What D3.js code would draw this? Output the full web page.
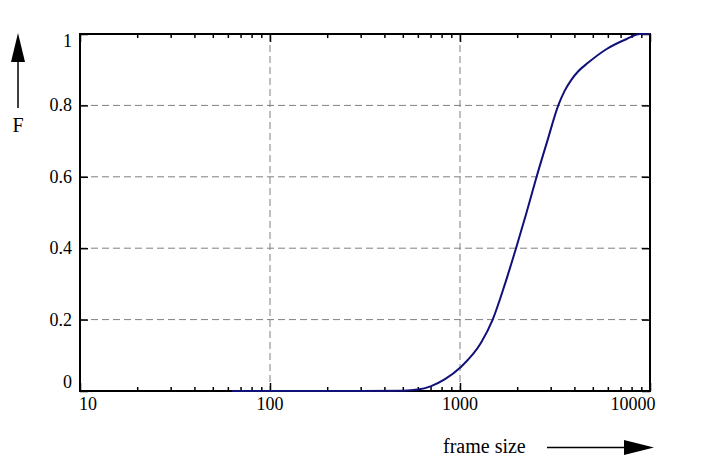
<!DOCTYPE html>
<html lang="en">
<head>
    <meta charset="UTF-8">
    <title>Frame size distribution</title>
    <script src="https://cdnjs.cloudflare.com/ajax/libs/d3/7.8.5/d3.min.js"></script>
    <style>
        body { margin: 0; background: #fff; }
        text { font-family: "Liberation Serif", "DejaVu Serif", serif; font-size: 18px; fill: #000; }
        .caption { font-size: 20px; }
        .grid line { stroke: #808080; stroke-width: 1; stroke-dasharray: 7,4; }
        .tick line { stroke: #000; stroke-width: 1.5; }
    </style>
</head>
<body>
    <div id="chart"></div>

    <script>
        // Cumulative distribution: frame size -> F
        const frameSizes = [63, 300, 500, 600, 700, 834, 1000, 1290, 1486, 1725, 1972, 2240, 2530, 2880, 3290, 3548, 3870, 4180, 4735, 5918, 7540, 8855, 10000];
        const cdfValues  = [0, 0, 0.001, 0.004, 0.013, 0.033, 0.065, 0.135, 0.2, 0.3, 0.4, 0.5, 0.6, 0.7, 0.8, 0.84, 0.873, 0.895, 0.92, 0.958, 0.986, 1.0, 1.0];

        const xMajor = [10, 100, 1000, 10000];
        const yMajor = [0, 0.2, 0.4, 0.6, 0.8, 1];
        const xGrid = [100, 1000];
        const yGrid = [0.2, 0.4, 0.6, 0.8];

        const W = 703, H = 467;
        const plot = {left: 80, right: 650, top: 34, bottom: 391};

        const svg = d3.select("#chart").append("svg")
            .attr("width", W)
            .attr("height", H);

        const x = d3.scaleLog().domain([10, 10000]).range([plot.left, plot.right]);
        const y = d3.scaleLinear().domain([0, 1]).range([plot.bottom, plot.top]);

        // minor ticks 2..9 in each decade
        const xMinor = [];
        [10, 100, 1000].forEach(d => {
            for (let k = 2; k <= 9; k++) xMinor.push(d * k);
        });

        // grid
        const grid = svg.append("g").attr("class", "grid");
        grid.selectAll(".gx").data(xGrid).enter().append("line")
            .attr("x1", d => x(d)).attr("x2", d => x(d))
            .attr("y1", plot.top).attr("y2", plot.bottom);
        grid.selectAll(".gy").data(yGrid).enter().append("line")
            .attr("x1", plot.left).attr("x2", plot.right)
            .attr("y1", d => y(d)).attr("y2", d => y(d));

        // inward ticks on all four sides
        const noLabel = "";
        svg.append("g").attr("transform", `translate(0,${plot.bottom})`)
            .call(d3.axisBottom(x).tickValues(xMinor).tickSize(-4).tickFormat(noLabel));
        svg.append("g").attr("transform", `translate(0,${plot.bottom})`)
            .call(d3.axisBottom(x).tickValues(xMajor).tickSize(-8).tickFormat(noLabel));
        svg.append("g").attr("transform", `translate(0,${plot.top})`)
            .call(d3.axisTop(x).tickValues(xMinor).tickSize(-4).tickFormat(noLabel));
        svg.append("g").attr("transform", `translate(0,${plot.top})`)
            .call(d3.axisTop(x).tickValues(xMajor).tickSize(-8).tickFormat(noLabel));
        svg.append("g").attr("transform", `translate(${plot.left},0)`)
            .call(d3.axisLeft(y).tickValues(yMajor).tickSize(-8).tickFormat(noLabel));
        svg.append("g").attr("transform", `translate(${plot.right},0)`)
            .call(d3.axisRight(y).tickValues(yMajor).tickSize(-8).tickFormat(noLabel));
        svg.selectAll(".domain").remove();

        // frame
        svg.append("rect")
            .attr("x", plot.left).attr("y", plot.top)
            .attr("width", plot.right - plot.left).attr("height", plot.bottom - plot.top)
            .attr("fill", "none").attr("stroke", "#000").attr("stroke-width", 2);

        // the curve, drawn over the frame like in the original
        const data = frameSizes.map((s, i) => ({s: s, f: cdfValues[i]}));
        svg.append("path")
            .datum(data)
            .attr("fill", "none")
            .attr("stroke", "#10107a")
            .attr("stroke-width", 2)
            .attr("d", d3.line().x(d => x(d.s)).y(d => y(d.f)).curve(d3.curveMonotoneX));

        // x labels (edge labels pulled inside)
        svg.selectAll(".xl").data(xMajor).enter().append("text")
            .attr("x", d => d === 10 ? x(d) - 1 : d === 10000 ? x(d) - 17 : x(d))
            .attr("y", 410)
            .attr("text-anchor", d => d === 10 ? "start" : "middle")
            .text(d => d);

        // y labels
        svg.selectAll(".yl").data(yMajor).enter().append("text")
            .attr("x", 72)
            .attr("y", d => d === 1 ? y(d) + 13 : d === 0 ? y(d) - 3.5 : y(d) + 6)
            .attr("text-anchor", "end")
            .text(d => d);

        // axis captions with arrows
        svg.append("text").attr("class", "caption").attr("x", 18).attr("y", 132)
            .attr("text-anchor", "middle").text("F");
        svg.append("line").attr("x1", 18).attr("x2", 18).attr("y1", 108).attr("y2", 55)
            .attr("stroke", "#000").attr("stroke-width", 1.5);
        svg.append("path").attr("d", "M18,33 L11,62 L25,62 Z").attr("fill", "#000");

        svg.append("text").attr("class", "caption").attr("x", 443).attr("y", 453).text("frame size");
        svg.append("line").attr("x1", 547).attr("x2", 630).attr("y1", 447.5).attr("y2", 447.5)
            .attr("stroke", "#000").attr("stroke-width", 1.5);
        svg.append("path").attr("d", "M654,447.5 L624,440 L624,455 Z").attr("fill", "#000");
    </script>
</body>
</html>
